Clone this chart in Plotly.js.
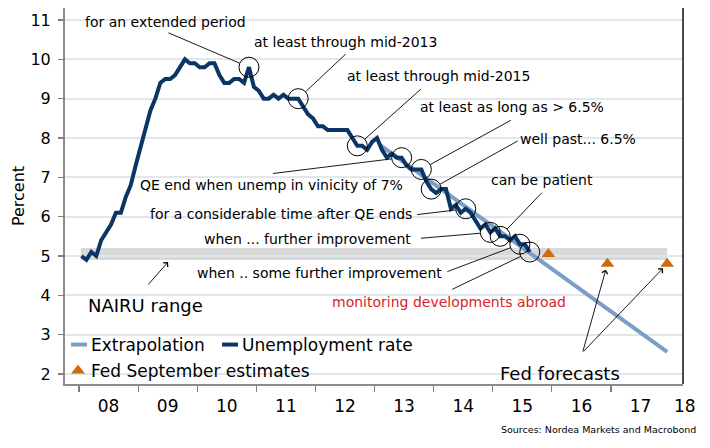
<!DOCTYPE html>
<html><head><meta charset="utf-8">
<script src="https://cdn.plot.ly/plotly-3.0.1.min.js"></script>
<style>html,body{margin:0;padding:0;background:#fff}#chart{width:710px;height:448px}</style>
</head><body><div id="chart"></div>
<script>
// ---------- data ----------
const startYear = 2008;
const u2008 = [5.0, 4.9, 5.1, 5.0, 5.4, 5.6, 5.8, 6.1, 6.1, 6.5, 6.8, 7.3];
const u2009 = [7.8, 8.3, 8.7, 9.0, 9.4, 9.5, 9.5, 9.6, 9.8, 10.0, 9.9, 9.9];
const u2010 = [9.8, 9.8, 9.9, 9.9, 9.6, 9.4, 9.4, 9.5, 9.5, 9.4, 9.8, 9.3];
const u2011 = [9.2, 9.0, 9.0, 9.1, 9.0, 9.1, 9.0, 9.0, 9.0, 8.8, 8.6, 8.5];
const u2012 = [8.3, 8.3, 8.2, 8.2, 8.2, 8.2, 8.2, 8.0, 7.8, 7.8, 7.7, 7.9];
const u2013 = [8.0, 7.7, 7.5, 7.6, 7.5, 7.5, 7.3, 7.2, 7.2, 7.2, 6.9, 6.7];
const u2014 = [6.6, 6.7, 6.7, 6.2, 6.3, 6.1, 6.2, 6.1, 5.9, 5.7, 5.8, 5.6];
const u2015 = [5.7, 5.5, 5.5, 5.4, 5.5, 5.3, 5.3, 5.1];
const unemployment = [].concat(u2008, u2009, u2010, u2011, u2012, u2013, u2014, u2015);
const monthX = unemployment.map((_, i) => startYear + (i + 0.5) / 12);

const extrapolationX = [2013.1, 2017.95];
const extrapolationY = [7.81, 2.56];

const fedX = [2015.94, 2016.94, 2017.95];
const fedY = [5.05, 4.8, 4.8];

const nairuX = [2008.03, 2017.95];
const nairuY = [4.9, 5.2];

const yearTicks = [2008, 2009, 2010, 2011, 2012, 2013, 2014, 2015, 2016, 2017];
const yearLabels = ['08', '09', '10', '11', '12', '13', '14', '15', '16', '17'];
const lastYearLabel = '18';
const yTicks = [2, 3, 4, 5, 6, 7, 8, 9, 10, 11];

// Fed statement phrases and the month (index into unemployment) they mark
const policyText = [
  'for an extended period', 'at least through mid-2013', 'at least through mid-2015',
  'QE end when unemp in vinicity of 7%', 'at least as long as > 6.5%', 'well past... 6.5%',
  'for a considerable time after QE ends', 'when ... further improvement', 'can be patient',
  'when .. some further improvement', 'monitoring developments abroad'
];
const policyMonth = [34, 44, 56, 65, 69, 71, 78, 83, 85, 89, 91];

// ---------- layout helpers ----------
const L = 65, R = 683, T = 8, B = 384;
const P = (px, py) => ({x: (px - L) / (R - L), y: (B - py) / (B - T)});

// label placement (pixel centres) and leader offsets for each phrase
const policyLayout = [
  {tx: 165, ty: 22, ax: -82, ay: -35},
  {tx: 345, ty: 42, ax: 49, ay: -46},
  {tx: 438, ty: 76, ax: 65, ay: -58},
  {tx: 271, ty: 185, ax: -130, ay: 16},
  {tx: 512, ty: 107, ax: 91, ay: -50},
  {tx: 578, ty: 139, ax: 88, ay: -49},
  {tx: 281, ty: 214, ax: -50, ay: 6},
  {tx: 307, ty: 239, ax: -71, ay: 6},
  {tx: 542, ty: 180, ax: 43, ay: -45},
  {tx: 319, ty: 273, ax: -74, ay: 28},
  {tx: 449, ty: 302, ax: -79, ay: 38}
];

const FONT = 'DejaVu Sans, Verdana, sans-serif';
const annotations = [];
function label(px, py, text, size, color, xanchor) {
  const p = P(px, py);
  annotations.push({xref: 'paper', yref: 'paper', x: p.x, y: p.y, text: text, showarrow: false,
    xanchor: xanchor || 'center', yanchor: 'middle',
    font: {family: FONT, size: size, color: color || '#000'}});
}
policyText.forEach((t, k) => {
  const lay = policyLayout[k];
  label(lay.tx, lay.ty, t, 14, k === 10 ? '#d7232b' : '#000');
  const i = policyMonth[k];
  annotations.push({xref: 'x', yref: 'y', x: monthX[i], y: unemployment[i], ax: lay.ax, ay: lay.ay,
    text: '', showarrow: true, arrowhead: 0, arrowwidth: 0.9, arrowcolor: '#000', standoff: 10});
});

// NAIRU range label + arrow
label(145, 305, 'NAIRU range', 18);
annotations.push({xref: 'x', yref: 'y', x: 2009.506, y: 4.848, ax: -21, ay: 24, text: '', showarrow: true,
  arrowhead: 4, arrowsize: 1.3, arrowwidth: 0.9, arrowcolor: '#000'});

// Fed forecasts label + arrows
label(560, 373, 'Fed forecasts', 18);
[[1, -25], [2, -85]].forEach(([j, axo]) => {
  annotations.push({xref: 'x', yref: 'y', x: fedX[j], y: fedY[j], ax: axo, ay: 89, text: '', showarrow: true,
    arrowhead: 4, arrowsize: 1.3, arrowwidth: 0.9, arrowcolor: '#000', standoff: 6});
});

// last year label (pushed inside like the original)
label(685, 406, lastYearLabel, 17);

// source
label(698, 429, 'Sources: Nordea Markets and Macrobond', 9.5, '#000', 'right');

// ---------- traces ----------
const traces = [
  {x: extrapolationX, y: extrapolationY, type: 'scatter', mode: 'lines', name: 'Extrapolation',
   line: {color: '#7b9ec6', width: 4}, legend: 'legend', hoverinfo: 'skip'},
  {x: monthX, y: unemployment, type: 'scatter', mode: 'lines', name: 'Unemployment rate',
   line: {color: '#0b3565', width: 4}, legend: 'legend2'},
  {x: policyMonth.map(i => monthX[i]), y: policyMonth.map(i => unemployment[i]), type: 'scatter',
   mode: 'markers', showlegend: false,
   marker: {symbol: 'circle-open', size: 20, color: '#000', line: {width: 1}}},
  {x: fedX, y: fedY, type: 'scatter', mode: 'markers', name: 'Fed September estimates',
   marker: {symbol: 'triangle-up', size: 12, color: '#d06a0e'}, legend: 'legend3'}
];

function legendAt(px, py) {
  const p = P(px, py);
  return {orientation: 'h', x: p.x, y: p.y, xanchor: 'left', yanchor: 'middle',
          bgcolor: 'rgba(0,0,0,0)', font: {family: FONT, size: 17, color: '#000'}};
}

const layout = {
  width: 710, height: 448,
  margin: {l: L, r: 710 - R, t: T, b: 448 - B},
  paper_bgcolor: '#fff', plot_bgcolor: '#fff',
  font: {family: FONT, color: '#000'},
  showlegend: true,
  xaxis: {
    range: [2007.763, 2018.218], showgrid: false, zeroline: false,
    showline: true, linecolor: '#8c8c8c', linewidth: 2,
    tickmode: 'array', tickvals: yearTicks.map(y => y + 0.5), ticktext: yearLabels,
    ticks: 'outside', ticklen: 6, tickcolor: 'rgba(0,0,0,0)',
    tickfont: {family: FONT, size: 17, color: '#000'},
    minor: {tickmode: 'array', tickvals: yearTicks, ticks: 'outside', ticklen: 6, tickcolor: '#7f7f7f', tickwidth: 1.2, showgrid: false}
  },
  yaxis: {
    range: [1.745, 11.305], tickmode: 'array', tickvals: yTicks,
    showgrid: true, gridcolor: '#e2e7ec', gridwidth: 2, zeroline: false,
    showline: true, linecolor: '#8c8c8c', linewidth: 2,
    ticks: 'outside', ticklen: 5, tickcolor: '#7f7f7f', tickwidth: 1.2, ticklabelstandoff: 4,
    tickfont: {family: FONT, size: 16, color: '#000'},
    title: {text: 'Percent', font: {family: FONT, size: 16, color: '#000'}, standoff: 2}
  },
  shapes: [
    {type: 'rect', xref: 'x', yref: 'y', x0: nairuX[0], x1: nairuX[1], y0: nairuY[0], y1: nairuY[1],
     fillcolor: '#d9d9d9', line: {width: 0}, layer: 'below'},
    {type: 'line', xref: 'paper', yref: 'paper', x0: 1, x1: 1, y0: 0, y1: 1, line: {color: '#111', width: 1.5}}
  ],
  legend: legendAt(51, 345),
  legend2: legendAt(202, 345),
  legend3: legendAt(51, 371),
  annotations: annotations
};

Plotly.newPlot('chart', traces, layout, {displayModeBar: false, staticPlot: true}).then(gd => {
  // shorter legend line swatches and a marker nearer the text, as in the original
  gd.querySelectorAll('.legendlines path').forEach(p => p.setAttribute('d', 'M20,0h16'));
  gd.querySelectorAll('.legendpoints path.scatterpts').forEach(p => p.setAttribute('transform', 'translate(27,0)'));
});
</script>
</body></html>
